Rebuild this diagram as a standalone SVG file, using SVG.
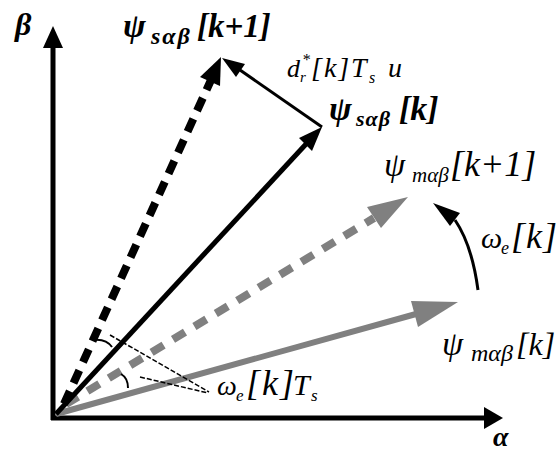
<svg xmlns="http://www.w3.org/2000/svg" width="558" height="454" viewBox="0 0 558 454">
<style>
.ax{stroke:#000;stroke-width:5;fill:none}
.blk{fill:#000}
.gry{fill:#808080}
.thin{stroke:#000;stroke-width:2;fill:none}
.lead{stroke:#000;stroke-width:1.5;fill:none;stroke-dasharray:5 2}
</style>
<rect width="558" height="454" fill="#fff"/>
<g id="connectors">
  <g id="axis-beta">
    <line class="ax" x1="53" y1="420" x2="53" y2="46"/>
    <polygon class="blk" points="53,26 43,48 63,48"/>
  </g>
  <g id="axis-alpha">
    <line class="ax" x1="51" y1="418" x2="487" y2="418"/>
    <polygon class="blk" points="503,418 484,407 484,429"/>
  </g>
  <g id="vec-psi-m-k">
    <line x1="56" y1="414" x2="416" y2="314" stroke="#808080" stroke-width="6"/>
    <polygon class="gry" points="458,302 418,327 411,301"/>
  </g>
  <g id="vec-psi-m-k1">
    <line x1="66" y1="404" x2="374" y2="218" stroke="#808080" stroke-width="8" stroke-dasharray="14 11"/>
    <polygon class="gry" points="408,197 381,228 367,207"/>
  </g>
  <g id="vec-psi-s-k">
    <line x1="56" y1="414" x2="307" y2="143" stroke="#000" stroke-width="5"/>
    <polygon class="blk" points="322,127 312,151 299,138"/>
  </g>
  <g id="vec-psi-s-k1">
    <line x1="64" y1="404" x2="211" y2="80" stroke="#000" stroke-width="8" stroke-dasharray="14 9"/>
    <polygon class="blk" points="221,57 220,86 200,77"/>
  </g>
  <g id="vec-dr">
    <line x1="322" y1="127" x2="240" y2="70" stroke="#000" stroke-width="3"/>
    <polygon class="blk" points="222,58 245,64 236,77"/>
  </g>
  <g id="arc-omega">
    <path d="M478,290 Q472,245 455,220" stroke="#000" stroke-width="3" fill="none"/>
    <polygon class="blk" points="433,203 460,213 450,226"/>
  </g>
  <g id="angle-marks">
    <path class="thin" d="M92,340 Q106,338 112,347"/>
    <path class="thin" d="M121,374 Q128,378 128,388"/>
    <line class="lead" x1="110" y1="335" x2="209" y2="392"/>
    <line class="lead" x1="140" y1="377" x2="208" y2="393"/>
  </g>
</g>
<g id="label-beta"><text x="15" y="35" style="font-family:'Liberation Serif',serif;font-style:italic;font-weight:bold;font-size:32px">β</text></g>
<g id="label-alpha"><text x="493" y="446" style="font-family:'Liberation Serif',serif;font-style:italic;font-weight:bold;font-size:28px">α</text></g>
<g id="label-psi-s-k1">
  <text y="37" style="font-family:'Liberation Serif',serif;font-style:italic;font-weight:bold"><tspan x="123" style="font-size:34px">ψ</tspan><tspan x="151" y="44" style="font-size:24px;letter-spacing:2px">sαβ</tspan><tspan x="197" y="37" style="font-size:33px">[k+1]</tspan></text>
</g>
<g id="label-psi-s-k">
  <text y="120" style="font-family:'Liberation Serif',serif;font-style:italic;font-weight:bold"><tspan x="329" style="font-size:34px">ψ</tspan><tspan x="356" y="126" style="font-size:22px;letter-spacing:1px">sαβ</tspan><tspan x="399" y="120" style="font-size:34px">[k]</tspan></text>
</g>
<g id="label-dr">
  <text y="77" style="font-family:'Liberation Serif',serif;font-style:italic"><tspan x="287" style="font-size:26px">d</tspan><tspan x="300" y="82" style="font-size:15px">r</tspan><tspan x="302" y="65" style="font-size:16px">*</tspan><tspan x="311" y="77" style="font-size:28px;letter-spacing:2px">[k]</tspan><tspan x="351" y="77" style="font-size:28px">T</tspan><tspan x="369" y="83" style="font-size:16px">s</tspan><tspan x="388" y="77" style="font-size:28px">u</tspan></text>
</g>
<g id="label-psi-m-k1">
  <text y="176" style="font-family:'Liberation Serif',serif;font-style:italic"><tspan x="384" style="font-size:34px">ψ</tspan><tspan x="412" y="182" style="font-size:21px">mαβ</tspan><tspan x="450" y="176" style="font-size:36px">[k+1]</tspan></text>
</g>
<g id="label-omega-k">
  <text y="248" style="font-family:'Liberation Serif',serif;font-style:italic"><tspan x="481" style="font-size:30px">ω</tspan><tspan x="501" y="254" style="font-size:18px">e</tspan><tspan x="511" y="248" style="font-size:36px;letter-spacing:1px">[k]</tspan></text>
</g>
<g id="label-psi-m-k">
  <text y="355" style="font-family:'Liberation Serif',serif;font-style:italic"><tspan x="442" style="font-size:34px">ψ</tspan><tspan x="471" y="361" style="font-size:24px">mαβ</tspan><tspan x="516" y="355" style="font-size:32px">[k]</tspan></text>
</g>
<g id="label-omega-ts">
  <text y="395" style="font-family:'Liberation Serif',serif;font-style:italic"><tspan x="217" style="font-size:28px">ω</tspan><tspan x="236" y="401" style="font-size:17px">e</tspan><tspan x="246" y="395" style="font-size:36px;letter-spacing:2px">[k]</tspan><tspan x="293" y="395" style="font-size:30px">T</tspan><tspan x="311" y="401" style="font-size:17px">s</tspan></text>
</g>
</svg>
